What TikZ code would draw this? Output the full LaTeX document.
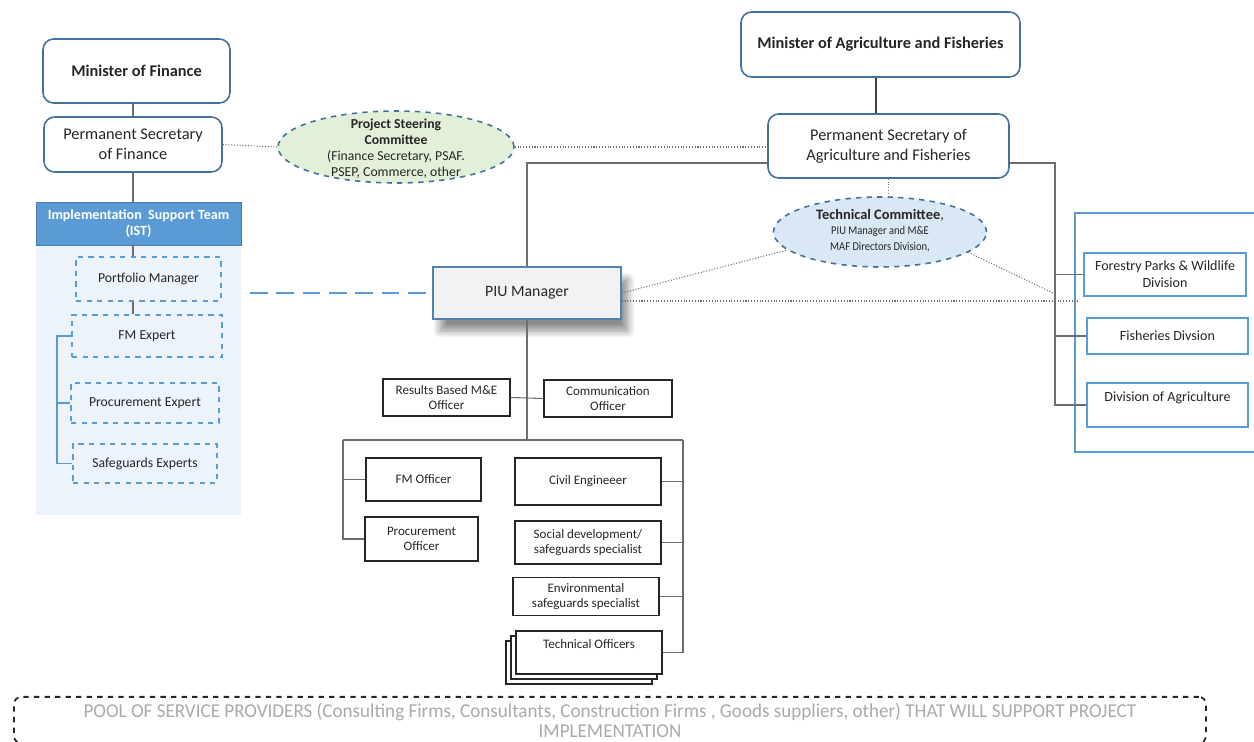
\documentclass[tikz,border=0pt]{standalone}
\usepackage{fontspec}
\setmainfont{Carlito}
\newfontfamily\narrowfont[FakeStretch=0.88]{Carlito}
\newfontfamily\poolfont[FakeStretch=0.97]{Carlito}
\usetikzlibrary{shapes.geometric,shadows,shadows.blur}
\definecolor{edgeblue}{RGB}{65,113,156}
\definecolor{brightblue}{RGB}{91,155,213}
\definecolor{istpanel}{RGB}{237,243,250}
\definecolor{pscgreen}{RGB}{226,239,217}
\definecolor{tcblue}{RGB}{218,231,244}
\definecolor{piufill}{RGB}{242,242,242}
\definecolor{linegray}{RGB}{110,110,110}
\definecolor{poolgray}{RGB}{170,170,170}
\definecolor{textdark}{RGB}{38,38,38}

\begin{document}
\begin{tikzpicture}[x=0.02cm,y=-0.02cm,
roundbox/.style={rectangle, rounded corners=6pt, draw=edgeblue, line width=0.9pt, fill=white, align=center, text=textdark, font=\fontsize{9.3}{11.3}\selectfont},
istbox/.style={rectangle, draw=brightblue, dashed, line width=0.8pt, align=center, text=textdark, font=\fontsize{7.8}{9.5}\selectfont},
offbox/.style={rectangle, draw=black!85, line width=0.8pt, fill=white, align=center, text=textdark, font=\fontsize{7.4}{8.5}\selectfont},
divbox/.style={rectangle, draw=brightblue, line width=0.9pt, fill=white, align=center, text=textdark, font=\fontsize{8}{9.5}\selectfont},
committee/.style={ellipse, draw=edgeblue, dashed, line width=0.9pt, inner sep=0pt},
conn/.style={draw=linegray, line width=0.6pt},
dotconn/.style={draw=linegray, densely dotted, line width=0.6pt},
]
\useasboundingbox (0,0) rectangle (1254,741);

% Ministry of Finance side
\node [roundbox, minimum width=3.74cm, minimum height=1.28cm, font=\bfseries\fontsize{9.3}{11.3}\selectfont] (mof) at (136.5,71) {Minister of Finance};
\node [roundbox, minimum width=3.56cm, minimum height=1.1cm] (psf) at (133,144.5) {Permanent Secretary\\of Finance};

\fill [istpanel] (36,245) rectangle (241,515);
\node [rectangle, fill=brightblue, draw=brightblue!80!black, line width=0.5pt, minimum width=4.1cm, minimum height=0.86cm, align=center, text=white, font=\bfseries\fontsize{8}{9}\selectfont] (ist) at (138.5,223.5) {Implementation\ \ Support Team\\(IST)};

\node [istbox, minimum width=2.9cm, minimum height=0.88cm] (port) at (148.5,279) {Portfolio Manager};
\node [istbox, minimum width=3cm, minimum height=0.84cm] (fmx) at (147,336) {FM Expert};
\node [istbox, minimum width=2.96cm, minimum height=0.8cm] (procx) at (145,403) {Procurement Expert};
\node [istbox, minimum width=2.88cm, minimum height=0.78cm] (safex) at (145,463.5) {Safeguards Experts};

\draw [conn] (mof.south -| psf.north) -- (psf.north);
\draw [conn] (psf.south) -- (psf.south |- ist.north);
\draw [conn] (psf.south |- ist.south) -- (psf.south |- port.north);
\draw [conn] (psf.south |- port.south) -- (psf.south |- fmx.north);
\coordinate (istbr) at (57,336);
\draw [draw=brightblue, line width=0.6pt] (fmx.west) -- (istbr) |- (safex.west);
\draw [draw=brightblue, line width=0.6pt] (istbr |- procx.west) -- (procx.west);

% committees
\node [committee, fill=pscgreen, minimum width=4.72cm, minimum height=1.44cm,
  label={[align=center, text=textdark, font=\fontsize{7.8}{9.1}\selectfont, yshift=-1pt]center:{\textbf{Project Steering}\\\textbf{Committee}\\(Finance Secretary, PSAF.\\PSEP, Commerce, other}}] (psc) at (396,147) {};
\node [committee, fill=tcblue, minimum width=4.26cm, minimum height=1.4cm,
  label={[align=center, text=textdark, font=\fontsize{6.8}{8.8}\selectfont, yshift=1pt]center:{{\fontsize{8.2}{8.8}\selectfont\textbf{Technical Committee},}\\{\narrowfont PIU Manager and M\&E}\\{\narrowfont MAF Directors Division,}}}] (tc) at (880,232) {};

% Ministry of Agriculture side
\node [roundbox, minimum width=5.58cm, minimum height=1.3cm, font=\bfseries\fontsize{9.3}{11.3}\selectfont] (moa) at (880.5,44.5) {Minister of Agriculture and Fisheries};
\node [roundbox, minimum width=4.82cm, minimum height=1.28cm] (psa) at (888.5,146) {Permanent Secretary of\\Agriculture and Fisheries};
\draw [conn, line width=0.8pt, draw=black!75] (moa.south -| 876,0) -- (psa.north -| 876,0);

\draw [draw=brightblue, line width=0.9pt] (1075,213) rectangle (1300,452);
\node [divbox, minimum width=3.24cm, minimum height=0.86cm] (forest) at (1165,274.5) {Forestry Parks \& Wildlife\\Division};
\node [divbox, minimum width=3.22cm, minimum height=0.72cm] (fish) at (1167.5,336) {Fisheries Divsion};
\node [divbox, minimum width=3.22cm, minimum height=0.88cm, text depth=10pt] (agri) at (1167.5,405) {Division of Agriculture};

% PIU
\node [rectangle, draw=brightblue!85!black, line width=0.9pt, fill=piufill, minimum width=3.76cm, minimum height=1.04cm, text=textdark, font=\fontsize{9}{11}\selectfont,
  blur shadow={shadow xshift=0.14cm, shadow yshift=-0.24cm, shadow opacity=45, shadow blur steps=10, shadow blur radius=0.14cm}] (piu) at (527,293) {PIU Manager};

\node [offbox, minimum width=2.54cm, minimum height=0.74cm] (res) at (446.5,397.5) {Results Based M\&E\\Officer};
\node [offbox, minimum width=2.56cm, minimum height=0.74cm] (com) at (608,398.5) {Communication\\Officer};
\node [offbox, minimum width=2.3cm, minimum height=0.86cm] (fmo) at (423.5,479.5) {FM Officer};
\node [offbox, minimum width=2.26cm, minimum height=0.88cm] (proco) at (421.5,539) {Procurement\\Officer};
\node [offbox, minimum width=2.92cm, minimum height=0.94cm] (civ) at (588,481.5) {Civil Engineeer};
\node [offbox, minimum width=2.92cm, minimum height=0.86cm] (soc) at (588,542.5) {Social development/\\safeguards specialist};
\node [offbox, minimum width=2.92cm, minimum height=0.7cm] (env) at (586,596.5) {Environmental\\safeguards specialist};
\node [offbox, minimum width=2.92cm, minimum height=0.86cm, text depth=10pt,
  double copy shadow={shadow xshift=-0.1cm, shadow yshift=-0.1cm, draw=black!85, line width=0.8pt, fill=white}] (tech) at (589,652.5) {Technical Officers};

% links round the PIU
\coordinate (busL) at (528,163);
\coordinate (divbus) at (1055,163);
\draw [conn] (psa.west |- busL) -| (piu.north);
\draw [conn] (psa.east |- divbus) -- (divbus) -- (divbus |- agri.west) -- (agri.west);
\draw [conn] (divbus |- forest.west) -- (forest.west);
\draw [conn] (divbus |- fish.west) -- (fish.west);

\draw [dotconn] (psf.east) -- (psc.west);
\draw [dotconn] (psc.east) -- (psc.east -| psa.west);
\draw [dotconn] (psa.south) -- (psa.south |- tc.north);
\draw [dotconn] (piu.east) -- (tc.191);
\coordinate (tcend) at (1053,293);
\draw [dotconn] (tc.-13) -- (tcend);
\coordinate (piuend) at (1078,301);
\draw [dotconn] (piu.east |- piuend) -- (piuend);
\coordinate (istlink) at (250,293);
\draw [draw=brightblue, dash pattern=on 10pt off 5pt, line width=1.3pt] (istlink) -- (piu.west);

\coordinate (busTL) at (343,440);
\coordinate (busTR) at (683,440);
\draw [conn] (piu.south) -- (piu.south |- busTL);
\draw [conn] (res.east) -- (com.west);
\draw [conn] (busTL) -- (busTR);
\draw [conn] (busTL) |- (proco.west);
\draw [conn] (busTL |- fmo.west) -- (fmo.west);
\draw [conn] (busTR) |- (tech.east);
\draw [conn] (busTR |- civ.east) -- (civ.east);
\draw [conn] (busTR |- soc.east) -- (soc.east);
\draw [conn] (busTR |- env.east) -- (env.east);

% service providers
\node [rectangle, rounded corners=4pt, draw=black!85, dashed, line width=1pt, minimum width=23.84cm, minimum height=0.78cm, align=center, text=poolgray, font=\poolfont\fontsize{11.2}{11.4}\selectfont] (pool) at (610,720) {POOL OF SERVICE PROVIDERS (Consulting Firms, Consultants, Construction Firms , Goods suppliers, other) THAT WILL SUPPORT PROJECT\\IMPLEMENTATION};
\end{tikzpicture}
\end{document}
